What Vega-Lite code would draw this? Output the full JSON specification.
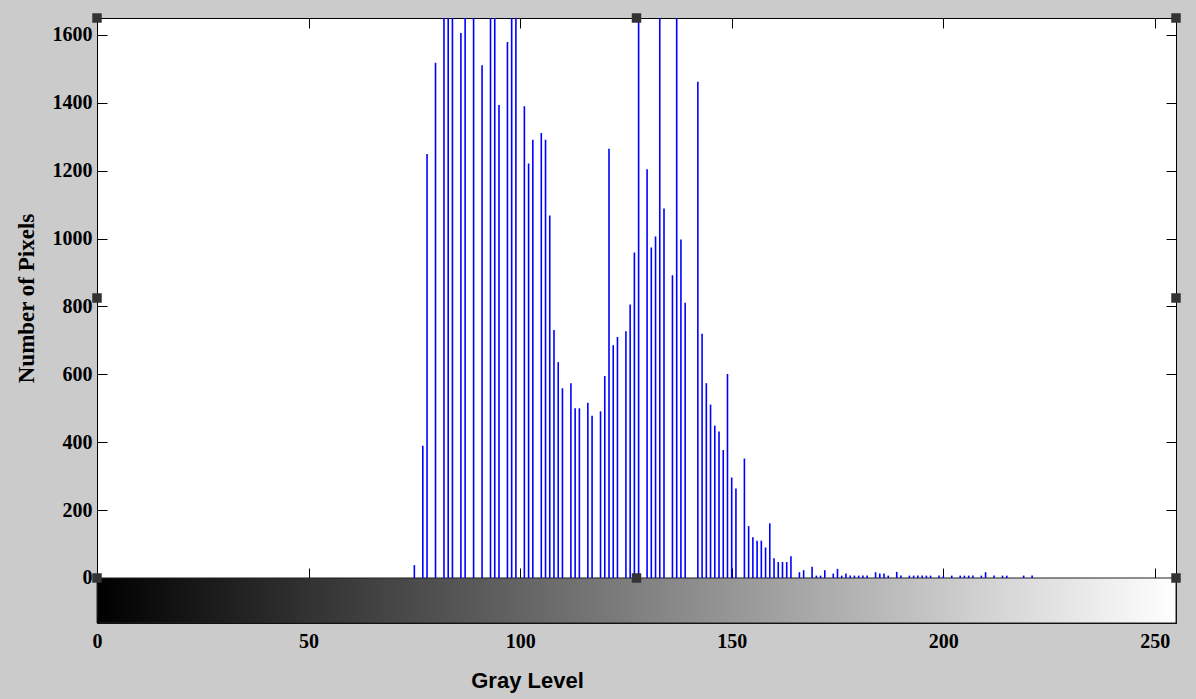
{
  "$schema": "https://vega.github.io/schema/vega-lite/v6.json",
  "autosize": {"type": "none"},
  "padding": {"left": 97, "top": 18, "right": 20, "bottom": 76},
  "width": 1079,
  "height": 605,
  "background": "#cbcbcb",
  "config": {
    "view": {"stroke": "black", "strokeWidth": 1, "fill": "white"},
    "axis": {"domainColor": "black", "tickColor": "black", "labelColor": "black", "titleColor": "black", "grid": false, "tickSize": -10, "tickWidth": 1, "domainWidth": 1,
      "labelFont": "Liberation Serif", "labelFontWeight": "bold", "labelFontSize": 20, "labelFlush": false}
  },
  "datasets": {
    "hist": [
      {"gray": 75, "pixels": 38}, {"gray": 77, "pixels": 390}, {"gray": 78, "pixels": 1249}, {"gray": 80, "pixels": 1518},
      {"gray": 82, "pixels": 1900}, {"gray": 83, "pixels": 2100}, {"gray": 84, "pixels": 2000}, {"gray": 86, "pixels": 1606},
      {"gray": 87, "pixels": 2200}, {"gray": 89, "pixels": 2300}, {"gray": 91, "pixels": 1511}, {"gray": 93, "pixels": 2100},
      {"gray": 94, "pixels": 1950}, {"gray": 95, "pixels": 1394}, {"gray": 97, "pixels": 1579}, {"gray": 98, "pixels": 1800},
      {"gray": 99, "pixels": 1700}, {"gray": 101, "pixels": 1390}, {"gray": 102, "pixels": 1221}, {"gray": 103, "pixels": 1291},
      {"gray": 105, "pixels": 1311}, {"gray": 106, "pixels": 1291}, {"gray": 107, "pixels": 1068}, {"gray": 108, "pixels": 731},
      {"gray": 109, "pixels": 636}, {"gray": 110, "pixels": 559}, {"gray": 112, "pixels": 574}, {"gray": 113, "pixels": 500},
      {"gray": 114, "pixels": 500}, {"gray": 116, "pixels": 516}, {"gray": 117, "pixels": 478}, {"gray": 119, "pixels": 491},
      {"gray": 120, "pixels": 595}, {"gray": 121, "pixels": 1265}, {"gray": 122, "pixels": 686}, {"gray": 123, "pixels": 710},
      {"gray": 125, "pixels": 727}, {"gray": 126, "pixels": 806}, {"gray": 127, "pixels": 959}, {"gray": 128, "pixels": 1850},
      {"gray": 130, "pixels": 1204}, {"gray": 131, "pixels": 974}, {"gray": 132, "pixels": 1006}, {"gray": 133, "pixels": 1750},
      {"gray": 134, "pixels": 1089}, {"gray": 136, "pixels": 892}, {"gray": 137, "pixels": 1700}, {"gray": 138, "pixels": 997},
      {"gray": 139, "pixels": 811}, {"gray": 142, "pixels": 1462}, {"gray": 143, "pixels": 720}, {"gray": 144, "pixels": 574},
      {"gray": 145, "pixels": 511}, {"gray": 146, "pixels": 449}, {"gray": 147, "pixels": 432}, {"gray": 148, "pixels": 377},
      {"gray": 149, "pixels": 601}, {"gray": 150, "pixels": 296}, {"gray": 151, "pixels": 264}, {"gray": 153, "pixels": 352},
      {"gray": 154, "pixels": 153}, {"gray": 155, "pixels": 120}, {"gray": 156, "pixels": 110}, {"gray": 157, "pixels": 110},
      {"gray": 158, "pixels": 90}, {"gray": 159, "pixels": 161}, {"gray": 160, "pixels": 58}, {"gray": 161, "pixels": 47},
      {"gray": 162, "pixels": 47}, {"gray": 163, "pixels": 47}, {"gray": 164, "pixels": 64}, {"gray": 166, "pixels": 17},
      {"gray": 167, "pixels": 23}, {"gray": 169, "pixels": 33}, {"gray": 170, "pixels": 7}, {"gray": 171, "pixels": 7},
      {"gray": 172, "pixels": 23}, {"gray": 174, "pixels": 13}, {"gray": 175, "pixels": 27}, {"gray": 176, "pixels": 7},
      {"gray": 177, "pixels": 13}, {"gray": 178, "pixels": 7}, {"gray": 179, "pixels": 7}, {"gray": 180, "pixels": 7},
      {"gray": 181, "pixels": 7}, {"gray": 182, "pixels": 7}, {"gray": 184, "pixels": 17}, {"gray": 185, "pixels": 13},
      {"gray": 186, "pixels": 13}, {"gray": 187, "pixels": 7}, {"gray": 189, "pixels": 18}, {"gray": 190, "pixels": 7},
      {"gray": 192, "pixels": 7}, {"gray": 193, "pixels": 7}, {"gray": 194, "pixels": 7}, {"gray": 195, "pixels": 7},
      {"gray": 196, "pixels": 7}, {"gray": 197, "pixels": 7}, {"gray": 199, "pixels": 7}, {"gray": 200, "pixels": 5},
      {"gray": 202, "pixels": 7}, {"gray": 204, "pixels": 7}, {"gray": 205, "pixels": 7}, {"gray": 206, "pixels": 7},
      {"gray": 207, "pixels": 7}, {"gray": 209, "pixels": 7}, {"gray": 210, "pixels": 17}, {"gray": 212, "pixels": 7},
      {"gray": 214, "pixels": 7}, {"gray": 215, "pixels": 7}, {"gray": 219, "pixels": 7}, {"gray": 221, "pixels": 7}
    ],
    "handles": [
      {"gray": 0, "pixels": 0}, {"gray": 127.5, "pixels": 0}, {"gray": 255, "pixels": 0},
      {"gray": 0, "pixels": 825}, {"gray": 255, "pixels": 825},
      {"gray": 0, "pixels": 1650}, {"gray": 127.5, "pixels": 1650}, {"gray": 255, "pixels": 1650}
    ]
  },
  "layer": [
    {
      "data": {"values": [{}]},
      "mark": {"type": "rect", "stroke": "#222222", "strokeWidth": 1, "color": {"gradient": "linear", "x1": 0, "y1": 0, "x2": 1, "y2": 0,
        "stops": [{"offset": 0, "color": "#000000"}, {"offset": 1, "color": "#ffffff"}]}},
      "encoding": {
        "x": {"datum": 0, "type": "quantitative", "scale": {"domain": [0, 255], "nice": false, "zero": false},
          "axis": {"orient": "bottom", "values": [0, 50, 100, 150, 200, 250], "labelPadding": 18,
            "title": "Gray Level", "titleFont": "Liberation Sans", "titleFontWeight": "bold", "titleFontSize": 22,
            "titleX": 430, "titleY": 64, "titleAlign": "center", "titleBaseline": "alphabetic"}},
        "x2": {"datum": 255},
        "y": {"datum": -132.6, "type": "quantitative", "scale": {"domain": [-132.6, 1650], "nice": false, "zero": false},
          "axis": {"orient": "left", "values": [0, 200, 400, 600, 800, 1000, 1200, 1400, 1600], "format": "d", "labelPadding": 15,
            "title": "Number of Pixels", "titleFont": "Liberation Serif", "titleFontWeight": "bold", "titleFontSize": 23,
            "titleX": -64, "titleY": 280, "titleAngle": 270, "titleAlign": "center", "titleBaseline": "alphabetic"}},
        "y2": {"datum": 0}
      }
    },
    {
      "data": {"name": "hist"},
      "mark": {"type": "rule", "color": "#0000ff", "strokeWidth": 1.6, "clip": true},
      "encoding": {
        "x": {"field": "gray", "type": "quantitative",
          "axis": {"orient": "top", "labels": false, "title": null, "values": [0, 50, 100, 150, 200, 250]}},
        "y": {"field": "pixels", "type": "quantitative",
          "axis": {"orient": "right", "labels": false, "title": null, "values": [-66.3, 0, 200, 400, 600, 800, 1000, 1200, 1400, 1600]}},
        "y2": {"datum": 0}
      }
    },
    {
      "data": {"name": "handles"},
      "mark": {"type": "point", "shape": "square", "size": 90, "filled": true, "color": "#333333", "opacity": 1},
      "encoding": {
        "x": {"field": "gray", "type": "quantitative",
          "axis": {"orient": "bottom", "offset": -55, "domain": false, "labels": false, "title": null, "tickSize": 21, "values": [50, 100, 150, 200, 250]}},
        "y": {"field": "pixels", "type": "quantitative", "axis": null}
      }
    }
  ],
  "resolve": {"axis": {"x": "independent", "y": "independent"}}
}
